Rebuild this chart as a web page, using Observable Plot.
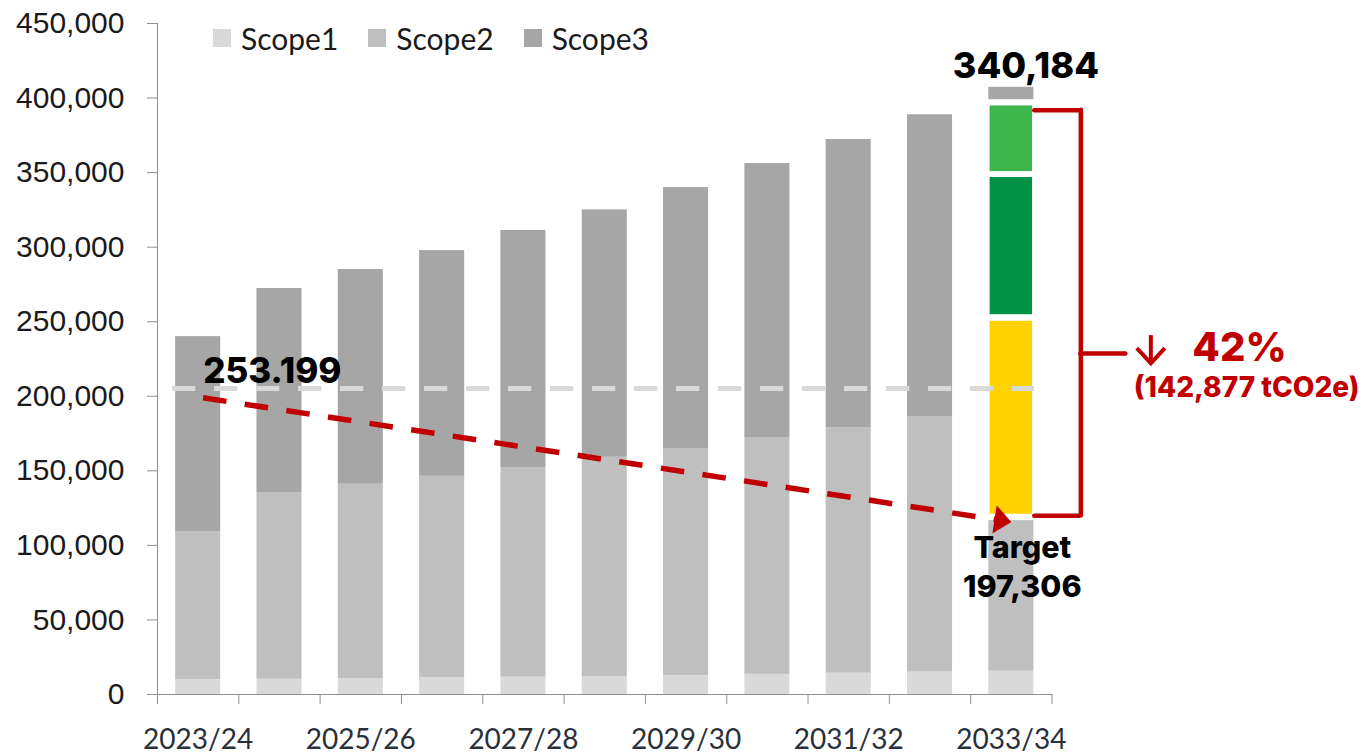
<!DOCTYPE html>
<html><head><meta charset="utf-8">
<script src="https://cdn.jsdelivr.net/npm/d3@7"></script>
<script src="https://cdn.jsdelivr.net/npm/@observablehq/plot@0.6"></script>
<style>
html,body{margin:0;padding:0;background:#fff;}
#wrap{position:relative;width:1365px;height:754px;}
#legend{position:absolute;left:213px;top:23px;display:flex;align-items:center;font-family:Lato,"Open Sans",sans-serif;font-size:30px;line-height:1;color:#1a1a1a;}
#legend .item{display:flex;align-items:center;margin-right:30px;}
#legend .sw{width:18px;height:18px;margin-right:10px;}
svg [aria-label^="y-axis"] text{font-family:"Liberation Sans",Arial,sans-serif;font-size:30px;fill:#1a1a1a;}
svg [aria-label^="x-axis"] text{font-family:Lato,"Open Sans",sans-serif;font-size:28px;fill:#2a303a;}
</style></head>
<body><div id="wrap"><div id="legend"></div></div>
<script>
// ---- data ----
const categories = ["2023/24","2024/25","2025/26","2026/27","2027/28","2028/29","2029/30","2030/31","2031/32","2032/33","2033/34"];
const scopeNames = ["Scope1","Scope2","Scope3"];
const scope1 = [9900, 10200, 10700, 11300, 11600, 12100, 12800, 13500, 14300, 15000, 15600];
const scope2 = [99400, 125200, 130300, 135000, 140600, 147000, 152200, 158800, 164700, 171400, 101000];
const scope3 = [130700, 136900, 144000, 151400, 159000, 165900, 175000, 183800, 193200, 202400, 0];
const reductionNames = ["Reduction A", "Reduction B", "Reduction C", "Remaining"];
const reductionLow  = [120900, 254700, 350700, 398900];
const reductionHigh = [250300, 346700, 394700, 407200];
const baselineLevel = 205200;
const pathwayStart = 199500;
const pathwayEnd = 115700;
const bracketTop = 391800, bracketBottom = 119800, bracketMid = 228700;
const downArrowTop = 240700, downArrowBottom = 221500;
const baselineLabel = "253.199";
const projectedLabel = "340,184";
const targetLabel = "Target\n197,306";
const reductionPct = "42%";
const reductionAbs = "(142,877 tCO2e)";
const yTickCount = 9;

// ---- styles ----
const greys = ["#d9d9d9", "#bfbfbf", "#a6a6a6"];
const reductionColors = ["#ffd200", "#009245", "#3cb54a", "#a6a6a6"];
const red = "#c00000";
const axisColor = "#8f8f8f";
const W = 1365, H = 754, ML = 157, MR = 313.5, MT = 23, MB = 60;
const step = (W - ML - MR) / categories.length;
const pxPerUnit = (H - MT - MB) / 450000;
const firstCat = categories[0];
const lastCat = categories[categories.length - 1];

const rows = categories.flatMap((c, i) => [
  {cat: c, scope: "Scope1", value: scope1[i]},
  {cat: c, scope: "Scope2", value: scope2[i]},
  {cat: c, scope: "Scope3", value: scope3[i]}
]).filter(d => d.value > 0);

const segs = reductionNames.map((name, i) => ({cat: lastCat, name, lo: reductionLow[i], hi: reductionHigh[i], i}));

const theta = 8.75 * Math.PI / 180;
const rot = ([x, y]) => [x * Math.cos(theta) - y * Math.sin(theta), x * Math.sin(theta) + y * Math.cos(theta)];
const headShape = {draw(ctx) {
  const p = [[0, 0], [-17, -14.25], [-17, 14.25]].map(rot);
  ctx.moveTo(p[0][0], p[0][1]); ctx.lineTo(p[1][0], p[1][1]); ctx.lineTo(p[2][0], p[2][1]); ctx.closePath();
}};
const chevron = {draw(ctx) {
  ctx.moveTo(-14, -16); ctx.lineTo(0, -1); ctx.lineTo(14, -16);
}};

const boldFont = "Inter, Roboto, sans-serif";

const chart = Plot.plot({
  width: W, height: H,
  marginLeft: ML, marginRight: MR, marginTop: MT, marginBottom: MB,
  style: {color: axisColor, background: "#fff", overflow: "visible"},
  x: {domain: categories, paddingInner: 0.446, paddingOuter: 0.223, round: false,
      tickSize: 0, tickPadding: 35, line: true, label: null,
      tickFormat: (d) => (categories.indexOf(d) % 2 === 0 ? d : "")},
  y: {domain: [0, 450000], ticks: yTickCount, tickSize: 10, tickPadding: 23, line: true, label: null,
      tickFormat: d3.format(",")},
  color: {domain: scopeNames, range: greys},
  marks: [
    Plot.barY(rows, {x: "cat", y: "value", fill: "scope"}),
    ...segs.map(s => Plot.barY([s], {x: "cat", y1: "lo", y2: "hi", fill: reductionColors[s.i],
      insetLeft: s.i < 3 ? 1.3 : 0, insetRight: s.i < 3 ? 1.3 : 0})),
    // x-axis boundary ticks
    Plot.ruleX(categories, {x: d => d, y1: 0, y2: -10 / pxPerUnit, dx: -step / 2, stroke: axisColor}),
    Plot.ruleX([lastCat], {x: d => d, y1: 0, y2: -10 / pxPerUnit, dx: step / 2, stroke: axisColor}),
    // baseline reference
    Plot.ruleY([baselineLevel], {stroke: "#d9d9d9", strokeWidth: 5, strokeDasharray: "23.3,18.7", insetLeft: 15, insetRight: 17.5}),
    // pathway
    Plot.arrow([{a: firstCat, b: lastCat}], {x1: "a", x2: "b", y1: () => pathwayStart, y2: () => pathwayEnd,
      stroke: red, strokeWidth: 5.5, strokeDasharray: "23.6,18.5", strokeLinecap: "butt",
      headLength: 0, insetStart: 5, insetEnd: 16}),
    Plot.dot([{c: lastCat, v: pathwayEnd}], {x: "c", y: "v", symbol: headShape, fill: red, stroke: "none", r: 10}),
    // bracket
    Plot.tickY([bracketTop, bracketBottom], {x: () => lastCat, y: d => d, dx: 46, stroke: red, strokeWidth: 4.5, strokeLinecap: "round"}),
    Plot.tickY([bracketMid], {x: () => lastCat, y: d => d, dx: 92, stroke: red, strokeWidth: 4.5, strokeLinecap: "round"}),
    Plot.ruleX([lastCat], {x: d => d, y1: bracketBottom, y2: bracketTop, dx: 69.5, stroke: red, strokeWidth: 4.5, strokeLinecap: "round"}),
    // down arrow
    Plot.ruleX([lastCat], {x: d => d, y1: downArrowBottom, y2: downArrowTop, dx: 139.5, stroke: red, strokeWidth: 4}),
    Plot.dot([{c: lastCat, v: downArrowBottom}], {x: "c", y: "v", dx: 139.5, symbol: chevron, fill: "none", stroke: red, strokeWidth: 4, strokeLinejoin: "miter", r: 10}),
    // labels
    Plot.text([baselineLabel], {x: () => firstCat, y: () => 225300, text: d => d, textAnchor: "start", lineAnchor: "top", dx: 5,
      fontSize: 35, fontWeight: 800, fontFamily: boldFont, fill: "#000"}),
    Plot.text([projectedLabel], {x: () => lastCat, y: () => 430700, text: d => d, textAnchor: "middle", lineAnchor: "top", dx: 14.5,
      fontSize: 36, fontWeight: 800, fontFamily: boldFont, fill: "#000"}),
    Plot.text([targetLabel], {x: () => lastCat, y: () => 110200, text: d => d, textAnchor: "middle", lineAnchor: "top", dx: 11,
      fontSize: 30.5, fontWeight: 800, lineHeight: 1.28, fontFamily: boldFont, fill: "#000"}),
    Plot.text([reductionPct], {x: () => lastCat, y: () => 243000, text: d => d, textAnchor: "start", lineAnchor: "top", dx: 181,
      fontSize: 40, fontWeight: 800, fontFamily: boldFont, fill: red}),
    Plot.text([reductionAbs], {x: () => lastCat, y: () => 212600, text: d => d, textAnchor: "start", lineAnchor: "top", dx: 122.5,
      fontSize: 28, fontWeight: 800, fontFamily: boldFont, fill: red})
  ]
});
document.getElementById("wrap").prepend(chart);

// legend
const lg = d3.select("#legend");
scopeNames.forEach((n, i) => {
  const it = lg.append("div").attr("class", "item");
  it.append("div").attr("class", "sw").style("background", greys[i]);
  it.append("span").text(n);
});
</script>
</body></html>
